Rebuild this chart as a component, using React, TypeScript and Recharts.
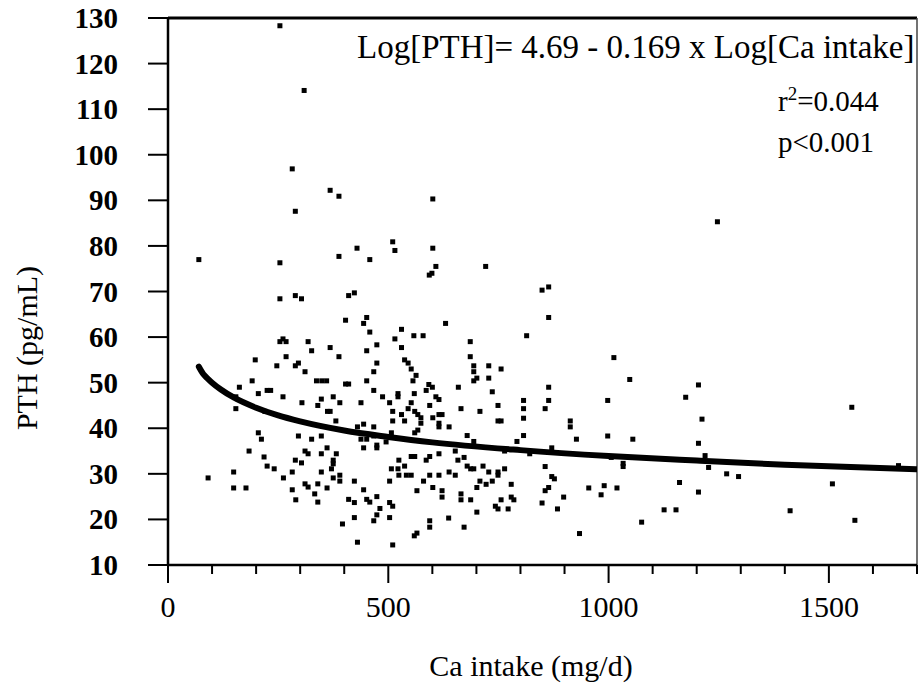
import { ComposedChart, Scatter, Line, XAxis, YAxis, ReferenceLine, Customized } from 'recharts';

// Ca intake (mg/d) of each subject
const caIntake = [
  254, 309, 282, 368, 388, 289, 510, 429, 515, 70, 388, 458, 254, 254, 289, 303, 410, 423, 403, 444,
  451, 458, 530, 515, 254, 261, 268, 318, 368, 326, 451, 474, 530, 388, 268, 198, 247, 289, 296, 311,
  537, 545, 474, 467, 191, 337, 349, 360, 403, 410, 451, 162, 225, 233, 205, 467, 261, 348, 375, 487,
  522, 522, 154, 304, 340, 390, 438, 503, 154, 220, 362, 368, 510, 545, 530, 537, 510, 381, 430, 444,
  467, 438, 451, 467, 507, 495, 205, 212, 296, 326, 348, 184, 311, 318, 348, 361, 382, 444, 474, 474,
  218, 289, 303, 375, 375, 371, 524, 507, 522, 537, 524, 541, 225, 241, 149, 282, 348, 375, 390, 390,
  262, 91, 149, 177, 282, 311, 318, 340, 361, 423, 444, 503, 333, 290, 340, 410, 423, 451, 458, 474,
  481, 503, 510, 474, 467, 423, 503, 396, 430, 510,
  601, 601, 608, 599, 593, 721, 849, 864, 864, 630, 558, 579, 814, 686, 686, 552, 694, 694, 701, 694,
  728, 728, 756, 556, 563, 659, 1012, 1048, 864, 592, 600, 586, 559, 608, 615, 736, 807, 807, 807, 864,
  856, 998, 552, 560, 594, 665, 749, 708, 567, 574, 574, 601, 615, 622, 615, 615, 638, 749, 756, 913,
  913, 560, 567, 679, 807, 998, 927, 1055, 694, 792, 652, 764, 821, 871, 1006, 1033, 1033, 552, 560, 586,
  594, 615, 658, 672, 679, 687, 694, 715, 728, 749, 749, 764, 638, 652, 594, 615, 552, 856, 871, 877,
  580, 565, 601, 622, 622, 708, 722, 736, 701, 779, 665, 665, 687, 779, 785, 756, 743, 749, 772, 701,
  864, 856, 898, 849, 884, 955, 990, 983, 1019, 637, 594, 594, 672, 565, 559, 934, 1075,
  1247, 1204, 1175, 1212, 1204, 1219, 1227, 1268, 1295, 1161, 1204, 1126, 1153, 1412, 1508, 1552, 1559, 1658,
];

// PTH (pg/mL) of each subject
const pth = [
  128.3, 114.1, 96.9, 92.2, 90.9, 87.6, 80.9, 79.5, 79.0, 77.0, 77.7, 77.0, 76.3, 68.4, 69.1, 68.4, 69.1, 69.7, 63.7, 63.0,
  64.3, 61.1, 61.7, 59.6, 59.0, 59.6, 59.0, 59.0, 57.7, 57.0, 57.0, 58.3, 57.7, 55.7, 55.7, 55.0, 53.7, 53.7, 54.3, 52.4,
  55.0, 54.3, 54.3, 52.4, 50.4, 50.4, 50.4, 50.4, 49.7, 49.7, 50.4, 49.0, 48.3, 48.3, 47.6, 48.3, 46.9, 46.4, 46.9, 46.9,
  47.6, 46.9, 46.9, 45.6, 45.0, 45.6, 45.6, 45.6, 44.3, 43.7, 43.7, 43.7, 43.7, 44.3, 43.0, 41.6, 41.6, 41.6, 40.3, 40.9,
  40.3, 37.6, 37.6, 38.3, 39.0, 37.0, 39.0, 37.6, 38.3, 37.6, 38.3, 35.0, 35.0, 34.4, 34.4, 35.7, 34.4, 35.7, 36.3, 35.7,
  33.7, 33.0, 32.4, 33.0, 32.2, 31.1, 33.0, 31.1, 31.1, 31.7, 29.7, 29.7, 31.7, 31.1, 30.4, 30.4, 30.4, 29.1, 29.7, 28.4,
  29.1, 29.1, 26.9, 26.9, 26.5, 27.8, 27.1, 27.8, 26.9, 28.4, 26.5, 28.4, 25.6, 24.3, 23.8, 24.4, 23.7, 24.4, 23.8, 25.0,
  22.4, 23.7, 22.9, 21.0, 19.7, 20.4, 20.4, 19.0, 15.0, 14.4,
  90.3, 79.5, 75.5, 74.0, 73.6, 75.5, 70.3, 71.0, 64.3, 63.0, 60.3, 60.3, 60.3, 59.0, 55.7, 53.0, 53.7, 52.4, 51.0, 50.4,
  53.7, 51.0, 53.0, 50.4, 51.6, 49.0, 55.5, 50.7, 49.0, 49.6, 49.0, 48.3, 47.6, 46.9, 46.3, 48.0, 46.1, 44.3, 42.2, 46.1,
  44.3, 46.1, 45.6, 43.7, 45.0, 44.3, 45.0, 43.7, 43.0, 42.3, 41.1, 42.3, 43.0, 43.0, 41.1, 40.3, 40.3, 41.6, 41.6, 41.6,
  40.3, 39.0, 39.6, 38.4, 38.4, 38.3, 37.6, 37.6, 37.1, 37.1, 35.0, 35.0, 34.4, 35.7, 33.6, 32.3, 31.6, 33.8, 33.8, 33.0,
  33.8, 34.4, 33.0, 33.6, 31.7, 31.1, 31.1, 31.7, 30.4, 30.4, 29.7, 31.1, 30.4, 29.7, 29.7, 29.7, 29.7, 31.6, 29.4, 28.9,
  28.4, 26.3, 27.0, 26.3, 24.9, 28.4, 27.7, 28.4, 27.0, 27.7, 25.6, 24.3, 24.3, 24.9, 24.3, 24.3, 22.9, 22.3, 22.3, 21.6,
  27.0, 26.3, 24.9, 23.6, 22.3, 26.9, 27.4, 25.4, 26.9, 20.3, 19.7, 18.3, 18.3, 17.0, 16.4, 16.9, 19.4,
  85.3, 49.5, 46.8, 42.0, 36.7, 34.0, 31.4, 30.0, 29.4, 28.1, 26.0, 22.1, 22.1, 21.9, 27.8, 44.6, 19.8, 31.8,
];

// regression curve
const fitCa = [70, 80, 90, 100, 120, 150, 200, 250, 300, 400, 500, 600, 800, 1000, 1200, 1400, 1700];
const fitPth = [53.5, 51.9, 50.9, 50.0, 48.5, 46.7, 44.5, 42.8, 41.5, 39.5, 38.1, 36.9, 35.2, 33.9, 32.9, 32.0, 31.0];

const xTicks = [0, 100, 200, 300, 400, 500, 600, 700, 800, 900, 1000, 1100, 1200, 1300, 1400, 1500, 1600, 1700];
const yTicks = [10, 20, 30, 40, 50, 60, 70, 80, 90, 100, 110, 120, 130];

const points = caIntake.map((x, i) => ({ x, y: pth[i] }));
const fit = fitCa.map((x, i) => ({ x, y: fitPth[i] }));

const serif = '"Liberation Serif", "Times New Roman", serif';

const XTick = ({ x, y, payload }: any) => {
  const major = payload.value % 500 === 0;
  return (
    <g>
      <line x1={x} x2={x} y1={y} y2={y + (major ? 18 : 9)} stroke="#000" strokeWidth={2} />
      {major && (
        <text x={x} y={y + 52} textAnchor="middle" fontSize={30} fontFamily={serif} fill="#000">
          {payload.value}
        </text>
      )}
    </g>
  );
};

const YTick = ({ x, y, payload }: any) => (
  <g>
    <line x1={x - 20} x2={x} y1={y} y2={y} stroke="#000" strokeWidth={2} />
    <text x={x - 50} y={y + 10} textAnchor="end" fontSize={29} fontWeight="bold" fontFamily={serif} fill="#000">
      {payload.value}
    </text>
  </g>
);

const Dot = ({ cx, cy }: any) => <rect x={cx - 2.5} y={cy - 2.5} width={5} height={5} fill="#000" />;

const Notes = () => (
  <g fontFamily={serif}>
    <text x={357} y={58} fontSize={33} fill="#000">Log[PTH]= 4.69 - 0.169 x Log[Ca intake]</text>
    <text x={778} y={111} fontSize={29} fill="#000">
      r<tspan fontSize={19} dy={-11}>2</tspan><tspan dy={11}>=0.044</tspan>
    </text>
    <text x={778} y={152} fontSize={29} fill="#000">p&lt;0.001</text>
    <text x={531} y={676} fontSize={30} textAnchor="middle" fill="#000">Ca intake (mg/d)</text>
    <text x={37} y={348} fontSize={30} textAnchor="middle" fill="#000" transform="rotate(-90, 37, 348)">
      PTH  (pg/mL)
    </text>
  </g>
);

export default function App() {
  return (
    <div style={{ position: 'absolute', left: 0, top: 0, background: '#fff' }}>
      <ComposedChart width={918} height={683} margin={{ top: 18, right: 1, bottom: 0, left: 0 }}>
        <XAxis
          type="number"
          dataKey="x"
          domain={[0, 1700]}
          ticks={xTicks}
          interval={0}
          tick={<XTick />}
          tickLine={false}
          tickSize={0}
          tickMargin={0}
          height={118}
          axisLine={{ stroke: '#000', strokeWidth: 2.5 }}
          allowDataOverflow
        />
        <YAxis
          type="number"
          dataKey="y"
          domain={[10, 130]}
          ticks={yTicks}
          interval={0}
          tick={<YTick />}
          tickLine={false}
          tickSize={0}
          tickMargin={0}
          width={168}
          axisLine={{ stroke: '#000', strokeWidth: 2.5 }}
          allowDataOverflow
        />
        <ReferenceLine y={130} stroke="#000" strokeWidth={3} />
        <ReferenceLine x={1700} stroke="#444" strokeWidth={1.5} />
        <Scatter data={points} dataKey="y" shape={<Dot />} isAnimationActive={false} />
        <Line
          data={fit}
          dataKey="y"
          type="monotone"
          stroke="#000"
          strokeWidth={6}
          strokeLinecap="round"
          dot={false}
          activeDot={false}
          isAnimationActive={false}
        />
        <Customized component={Notes} />
      </ComposedChart>
    </div>
  );
}
